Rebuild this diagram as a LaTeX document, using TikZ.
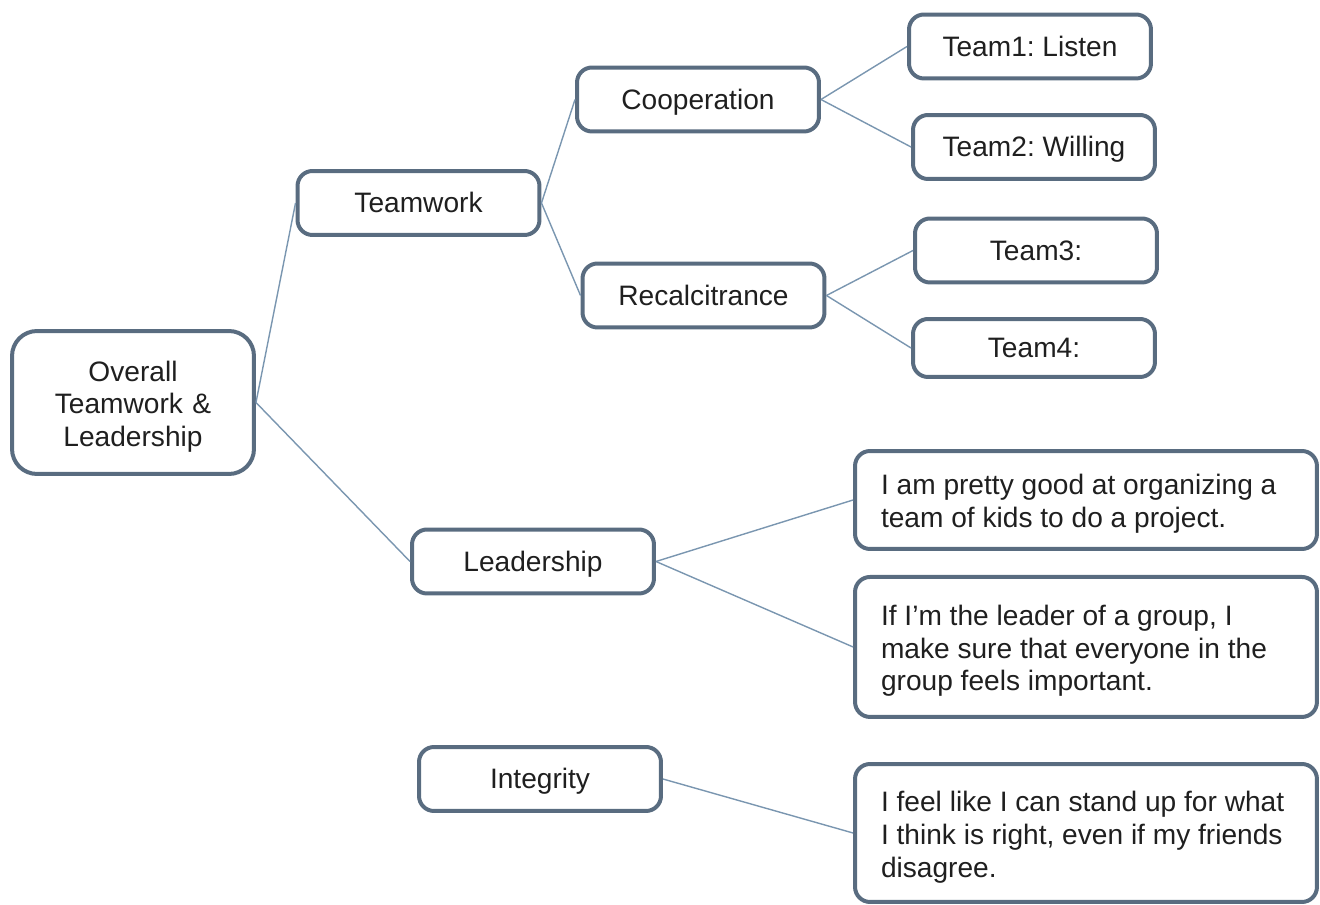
\documentclass[tikz,border=0pt]{standalone}
\usepackage{fontspec}
\setmainfont{Liberation Sans}
\frenchspacing
\usetikzlibrary{positioning}
\definecolor{boxline}{RGB}{89,108,128}
\definecolor{linkline}{RGB}{122,150,176}
\tikzset{
  frame/.style={draw=boxline, line width=0.08cm, rounded corners=0.3cm, minimum width=4.84cm,
    minimum height=1.28cm, align=center, text=black!88, font=\fontsize{16}{18.6}\selectfont},
  box/.style={frame, text height=0.45cm, text depth=0.05cm},
  lowtext/.style={execute at begin node={\rule{0pt}{0.57cm}}},
  textbox/.style={frame, lowtext, minimum width=9.24cm, text width=8.2cm, inner xsep=0.52cm, align=flush left},
  link/.style={draw=linkline, line width=0.8pt}
}
\begin{document}
\begin{tikzpicture}[x=0.02cm,y=-0.02cm,node distance=2mm and 2mm]
  \useasboundingbox (0,0) rectangle (1320,905);
  \node[frame, lowtext, text width=4cm, minimum height=2.86cm, rounded corners=0.5cm] (ovr) at (133,402.5) {Overall\\Teamwork \&\\Leadership};
  \node[box] (tw) at (418.5,203) {Teamwork};
  \node[box] (co) at (698,99.5) {Cooperation};
  \node[box] (re) at (703.5,295.5) {Recalcitrance};
  \node[box] (t1) at (1030,46.5) {Team1: Listen};
  \node[box] (t2) at (1034,147) {Team2: Willing};
  \node[box] (t3) at (1036,250.5) {Team3:};
  \node[box, minimum height=1.16cm] (t4) at (1034,348) {Team4:};
  \node[box] (ld) at (533,561.5) {Leadership};
  \node[textbox, minimum height=1.96cm] (l1) at (1086,500) {I am pretty good at organizing a\\team of kids to do a project.};
  \node[textbox, minimum height=2.8cm, below=0.48cm of l1] (l2) {If I’m the leader of a group, I\\make sure that everyone in the\\group feels important.};
  \node[box] (ig) at (540,779) {Integrity};
  \node[textbox, minimum height=2.76cm] (i1) at (1086,833) {I feel like I can stand up for what\\I think is right, even if my friends\\disagree.};
  \path[link] (ovr.east) edge (tw.west) edge (ld.west);
  \path[link] (tw.east) edge (co.west) edge (re.west);
  \path[link] (co.east) edge (t1.west) edge (t2.west);
  \path[link] (re.east) edge (t3.west) edge (t4.west);
  \path[link] (ld.east) edge (l1.west) edge (l2.west);
  \path[link] (ig.east) edge (i1.west);
\end{tikzpicture}
\end{document}
